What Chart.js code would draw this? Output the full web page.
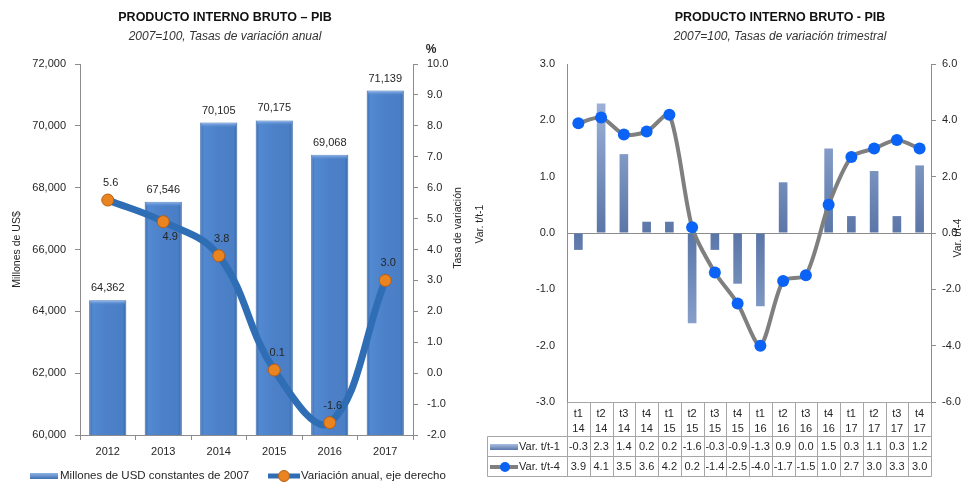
<!DOCTYPE html>
<html>
<head>
<meta charset="utf-8">
<script src="https://cdn.jsdelivr.net/npm/chart.js@4.4.1/dist/chart.umd.min.js"></script>
<style>
  html, body { margin: 0; padding: 0; background: #fff; }
  #wrap { position: relative; width: 968px; height: 485px; overflow: hidden; background: #fff; }
  #annual { position: absolute; left: 0; top: 0; }
  #quarterly { position: absolute; left: 465px; top: 0; }
</style>
</head>
<body>
<div id="wrap">
  <canvas id="annual" width="470" height="485"></canvas>
  <canvas id="quarterly" width="503" height="485"></canvas>
</div>
<script>
// ---- Annual series (left panel) ----
const years = ['2012', '2013', '2014', '2015', '2016', '2017'];
const gdpMillions = [64362, 67546, 70105, 70175, 69068, 71139];
const annualGrowth = [5.6, 4.9, 3.8, 0.1, -1.6, 3.0];
const growthLabelSide = ['above', 'below', 'above', 'above', 'above', 'above'];

// ---- Quarterly series (right panel) ----
const quarterNames = ['t1','t2','t3','t4','t1','t2','t3','t4','t1','t2','t3','t4','t1','t2','t3','t4'];
const quarterYears = ['14','14','14','14','15','15','15','15','16','16','16','16','17','17','17','17'];
const varQoQ = [-0.3, 2.3, 1.4, 0.2, 0.2, -1.6, -0.3, -0.9, -1.3, 0.9, 0.0, 1.5, 0.3, 1.1, 0.3, 1.2];
const varYoY = [3.9, 4.1, 3.5, 3.6, 4.2, 0.2, -1.4, -2.5, -4.0, -1.7, -1.5, 1.0, 2.7, 3.0, 3.3, 3.0];

const FONT = "'Liberation Sans', Arial, sans-serif";
const TEXT = '#262626';
const AXIS = '#8C8C8C';
Chart.defaults.font.family = FONT;
Chart.defaults.color = TEXT;

function thousands(v) {
  return String(Math.round(v)).replace(/\B(?=(\d{3})+(?!\d))/g, ',');
}

// Title, subtitle and free-standing captions drawn at fixed spots
const captions = {
  id: 'captions',
  afterDraw(chart, args, opts) {
    const ctx = chart.ctx;
    ctx.save();
    ctx.textBaseline = 'middle';
    ctx.textAlign = 'center';
    ctx.font = 'bold 12.5px ' + FONT;
    ctx.fillStyle = '#111';
    ctx.fillText(opts.title, opts.cx, 18);
    ctx.font = 'italic 12px ' + FONT;
    ctx.fillStyle = '#333';
    ctx.fillText(opts.subtitle, opts.cx, 37);
    ctx.fillStyle = TEXT;
    (opts.rotated || []).forEach(r => {
      ctx.save();
      ctx.translate(r.x, r.y);
      ctx.rotate(-Math.PI / 2);
      ctx.font = '10.5px ' + FONT;
      ctx.fillText(r.text, 0, 0);
      ctx.restore();
    });
    (opts.plain || []).forEach(p => {
      ctx.font = p.font + ' ' + FONT;
      ctx.fillText(p.text, p.x, p.y);
    });
    ctx.restore();
  }
};

// ---------------- Left panel ----------------
const annualLabels = {
  id: 'annualLabels',
  afterDatasetDraw(chart, args) {
    if (args.index !== 1) return;
    // light bevel on top of each column
    const ctx = chart.ctx;
    ctx.save();
    args.meta.data.forEach(el => {
      const w = el.width;
      const g = ctx.createLinearGradient(0, el.y, 0, el.y + 5);
      g.addColorStop(0, '#9CC0EE');
      g.addColorStop(1, 'rgba(90,140,210,0)');
      ctx.fillStyle = g;
      ctx.fillRect(el.x - w / 2 + 1, el.y + 0.5, w - 2, 5);
    });
    ctx.restore();
  },
  afterDatasetsDraw(chart) {
    const ctx = chart.ctx;
    ctx.save();
    ctx.font = '11px ' + FONT;
    ctx.fillStyle = TEXT;
    ctx.textAlign = 'center';
    ctx.textBaseline = 'middle';
    chart.getDatasetMeta(1).data.forEach((el, i) => {
      ctx.fillText(thousands(gdpMillions[i]), el.x, el.y - 12);
    });
    chart.getDatasetMeta(0).data.forEach((el, i) => {
      const below = growthLabelSide[i] === 'below';
      ctx.fillText(annualGrowth[i].toFixed(1), el.x + (below ? 7 : 3), below ? el.y + 15 : el.y - 17);
    });
    ctx.restore();
  }
};

const annualLegend = {
  id: 'annualLegend',
  afterDraw(chart) {
    const ctx = chart.ctx;
    const y = 476;
    ctx.save();
    const g = ctx.createLinearGradient(0, y - 3, 0, y + 3);
    g.addColorStop(0, '#8FB4E6');
    g.addColorStop(1, '#3F6FB2');
    ctx.fillStyle = g;
    ctx.fillRect(30, y - 3, 28, 6);
    ctx.strokeStyle = '#2F6EB5';
    ctx.lineWidth = 5;
    ctx.beginPath();
    ctx.moveTo(268, y);
    ctx.lineTo(300, y);
    ctx.stroke();
    ctx.fillStyle = '#EA8420';
    ctx.strokeStyle = '#B85E12';
    ctx.lineWidth = 1;
    ctx.beginPath();
    ctx.arc(284, y, 5.5, 0, Math.PI * 2);
    ctx.fill();
    ctx.stroke();
    ctx.fillStyle = TEXT;
    ctx.font = '11.5px ' + FONT;
    ctx.textBaseline = 'middle';
    ctx.textAlign = 'left';
    ctx.fillText(chart.data.datasets[1].label, 60, y);
    ctx.fillText(chart.data.datasets[0].label, 301, y);
    ctx.restore();
  }
};

function columnFill(c) {
  const chart = c.chart;
  const xs = chart.scales && chart.scales.x;
  if (!xs || c.dataIndex === undefined || !chart.chartArea) return '#4A7EC6';
  const step = (chart.chartArea.right - chart.chartArea.left) / years.length;
  const w = step * 0.67;
  const cx = xs.getPixelForValue(c.dataIndex);
  const g = chart.ctx.createLinearGradient(cx - w / 2, 0, cx + w / 2, 0);
  g.addColorStop(0, '#3C6BAD');
  g.addColorStop(0.1, '#5289D0');
  g.addColorStop(0.5, '#4C81C9');
  g.addColorStop(0.9, '#4A7EC5');
  g.addColorStop(1, '#3867A7');
  return g;
}

new Chart(document.getElementById('annual'), {
  data: {
    labels: years,
    datasets: [
      {
        type: 'line',
        label: 'Variación anual, eje derecho',
        data: annualGrowth,
        yAxisID: 'yRate',
        borderColor: '#2F6EB5',
        borderWidth: 7,
        tension: 0.4,
        pointRadius: 6,
        pointBackgroundColor: '#EA8420',
        pointBorderColor: '#B85E12',
        pointBorderWidth: 1,
        order: 0
      },
      {
        type: 'bar',
        label: 'Millones de USD constantes de 2007',
        data: gdpMillions,
        yAxisID: 'yUsd',
        backgroundColor: columnFill,
        borderColor: '#3A68A8',
        borderWidth: 1,
        barPercentage: 0.67,
        categoryPercentage: 1,
        order: 1
      }
    ]
  },
  options: {
    responsive: false,
    animation: false,
    devicePixelRatio: 1,
    layout: { padding: { left: 0, right: 0, top: 64, bottom: 28 } },
    plugins: {
      legend: { display: false },
      tooltip: { enabled: false },
      captions: {
        title: 'PRODUCTO INTERNO BRUTO – PIB',
        subtitle: '2007=100, Tasas de variación anual',
        cx: 225,
        rotated: [{ text: 'Tasa de variación', x: 458, y: 228 }],
        plain: [{ text: '%', x: 431, y: 50, font: 'bold 12px' }]
      }
    },
    scales: {
      x: {
        grid: { display: true, drawOnChartArea: false, offset: true, tickLength: 5, color: AXIS },
        border: { color: AXIS },
        ticks: { font: { size: 11 }, padding: 5, color: TEXT },
        afterFit(s) { s.height = 22; }
      },
      yUsd: {
        position: 'left',
        min: 60000,
        max: 72000,
        ticks: { stepSize: 2000, padding: 9, font: { size: 11 }, color: TEXT, callback: v => thousands(v) },
        grid: { drawOnChartArea: false, tickLength: 5, color: AXIS },
        border: { color: AXIS },
        title: { display: true, text: 'Millones de US$', font: { size: 10.5 }, color: TEXT, padding: { top: 11, bottom: 0 } },
        afterFit(s) { s.width = 80; }
      },
      yRate: {
        position: 'right',
        min: -2,
        max: 10,
        ticks: { stepSize: 1, padding: 9, font: { size: 11 }, color: TEXT, callback: v => Number(v).toFixed(1) },
        grid: { drawOnChartArea: false, tickLength: 5, color: AXIS },
        border: { color: AXIS },
        afterFit(s) { s.width = 57; }
      }
    }
  },
  plugins: [annualLabels, annualLegend, captions]
});

// ---------------- Right panel ----------------
const quarterTable = {
  id: 'quarterTable',
  afterDraw(chart, args, opts) {
    const ctx = chart.ctx;
    const area = chart.chartArea;
    const xs = chart.scales.x;
    const n = quarterNames.length;
    const step = (area.right - area.left) / n;
    const top = Math.round(area.bottom) + 0.5;
    const headBottom = top + 34;
    const row1Bottom = headBottom + 20;
    const row2Bottom = row1Bottom + 20;
    const left = opts.left + 0.5;
    const right = Math.round(area.right) + 0.5;
    ctx.save();
    ctx.strokeStyle = '#A6A6A6';
    ctx.lineWidth = 1;
    ctx.beginPath();
    ctx.moveTo(Math.round(area.left) + 0.5, top); ctx.lineTo(right, top);
    ctx.moveTo(left, headBottom); ctx.lineTo(right, headBottom);
    ctx.moveTo(left, row1Bottom); ctx.lineTo(right, row1Bottom);
    ctx.moveTo(left, row2Bottom); ctx.lineTo(right, row2Bottom);
    ctx.moveTo(left, headBottom); ctx.lineTo(left, row2Bottom);
    for (let i = 0; i <= n; i++) {
      const bx = Math.round(xs.getPixelForValue(i) - step / 2) + 0.5;
      ctx.moveTo(bx, top); ctx.lineTo(bx, row2Bottom);
    }
    ctx.stroke();

    ctx.fillStyle = TEXT;
    ctx.font = '11px ' + FONT;
    ctx.textAlign = 'center';
    ctx.textBaseline = 'middle';
    for (let i = 0; i < n; i++) {
      const cx = xs.getPixelForValue(i);
      ctx.fillText(quarterNames[i], cx, top + 11);
      ctx.fillText(quarterYears[i], cx, top + 26);
      ctx.fillText(varQoQ[i].toFixed(1), cx, headBottom + 10.5);
      ctx.fillText(varYoY[i].toFixed(1), cx, row1Bottom + 10.5);
    }

    // series keys in the first column
    const ds = chart.data.datasets;
    const sy1 = headBottom + 10.5;
    const sy2 = row1Bottom + 10.5;
    const g = ctx.createLinearGradient(0, sy1 - 3, 0, sy1 + 3);
    g.addColorStop(0, '#A9BEE2');
    g.addColorStop(1, '#5A77A8');
    ctx.fillStyle = g;
    ctx.fillRect(opts.left + 3, sy1 - 3, 28, 6);
    ctx.strokeStyle = '#7F7F7F';
    ctx.lineWidth = 4;
    ctx.beginPath();
    ctx.moveTo(opts.left + 3, sy2); ctx.lineTo(opts.left + 31, sy2);
    ctx.stroke();
    ctx.fillStyle = '#0B63F6';
    ctx.beginPath();
    ctx.arc(opts.left + 18, sy2, 5, 0, Math.PI * 2);
    ctx.fill();
    ctx.fillStyle = TEXT;
    ctx.textAlign = 'left';
    ctx.font = '11px ' + FONT;
    ctx.fillText(ds[1].label, opts.left + 32, sy1);
    ctx.fillText(ds[0].label, opts.left + 32, sy2);
    ctx.restore();
  }
};

function qBarFill(c) {
  const chart = c.chart;
  const a = chart.chartArea;
  if (!a) return '#7490C0';
  const g = chart.ctx.createLinearGradient(0, a.top, 0, a.bottom);
  g.addColorStop(0, '#AEC2E6');
  g.addColorStop(0.5, '#5A76A7');
  g.addColorStop(1, '#AEC2E6');
  return g;
}

new Chart(document.getElementById('quarterly'), {
  data: {
    labels: quarterNames.map((q, i) => [q, quarterYears[i]]),
    datasets: [
      {
        type: 'line',
        label: 'Var. t/t-4',
        data: varYoY,
        yAxisID: 'y2',
        borderColor: '#7F7F7F',
        borderWidth: 4,
        tension: 0.25,
        pointRadius: 6,
        pointBackgroundColor: '#0B63F6',
        pointBorderColor: '#0B63F6',
        pointBorderWidth: 0,
        order: 0
      },
      {
        type: 'bar',
        label: 'Var. t/t-1',
        data: varQoQ,
        yAxisID: 'y',
        backgroundColor: qBarFill,
        borderWidth: 0,
        barPercentage: 0.38,
        categoryPercentage: 1,
        order: 1
      }
    ]
  },
  options: {
    responsive: false,
    animation: false,
    devicePixelRatio: 1,
    layout: { padding: { left: 0, right: 0, top: 64, bottom: 83 } },
    plugins: {
      legend: { display: false },
      tooltip: { enabled: false },
      captions: {
        title: 'PRODUCTO INTERNO BRUTO - PIB',
        subtitle: '2007=100, Tasas de variación trimestral',
        cx: 315,
        rotated: [{ text: 'Var. t/t-4', x: 493, y: 238 }, { text: 'Var. t/t-1', x: 15, y: 224 }]
      },
      quarterTable: { left: 22 }
    },
    scales: {
      x: {
        position: { y: 0 },
        ticks: { display: false },
        grid: { display: true, drawOnChartArea: false, drawTicks: false },
        border: { color: AXIS }
      },
      y: {
        position: 'left',
        min: -3,
        max: 3,
        ticks: { stepSize: 1, padding: 12, font: { size: 11 }, color: TEXT, callback: v => Number(v).toFixed(1) },
        grid: { drawOnChartArea: false, drawTicks: false },
        border: { color: AXIS },
        afterFit(s) { s.width = 102; }
      },
      y2: {
        position: 'right',
        min: -6,
        max: 6,
        ticks: { stepSize: 2, padding: 6, font: { size: 11 }, color: TEXT, callback: v => Number(v).toFixed(1) },
        grid: { drawOnChartArea: false, tickLength: 5, color: AXIS },
        border: { color: AXIS },
        afterFit(s) { s.width = 37; }
      }
    }
  },
  plugins: [quarterTable, captions]
});
</script>
</body>
</html>
